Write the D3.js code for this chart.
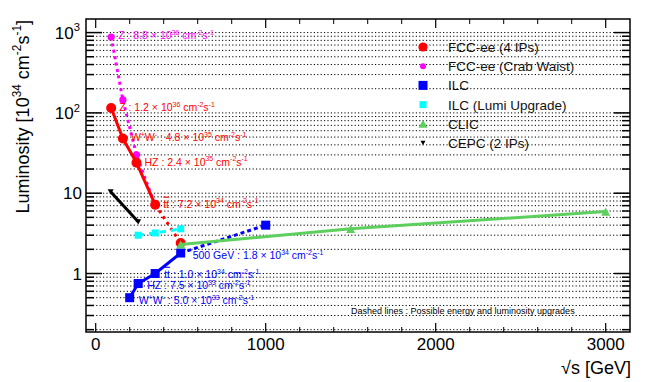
<!DOCTYPE html>
<html>
<head>
<meta charset="utf-8">
<script src="https://cdn.jsdelivr.net/npm/d3@7"></script>
<style>
body { margin: 0; background: #fff; }
text { font-family: "Liberation Sans", Arial, sans-serif; }
</style>
</head>
<body>
<svg id="chart" width="664" height="382"></svg>
<script>
// values
const fccEnergy = [91, 160, 240, 350];
const fccLumi = [115, 48, 24, 7.2];
const fccUpEnergy = [350, 500];
const fccUpLumi = [7.2, 2.4];
const crabEnergy = [91, 160, 240, 350];
const crabLumi = [880, 145, 30, 7.0];
const ilcEnergy = [200, 250, 350, 500];
const ilcLumi = [0.5, 0.75, 1.0, 1.8];
const ilcUpEnergy = [500, 1000];
const ilcUpLumi = [1.8, 4.0];
const ilcLumiUpEnergy = [250, 350, 500];
const ilcLumiUpLumi = [3.0, 3.2, 3.6];
const clicEnergy = [500, 1500, 3000];
const clicLumi = [2.3, 3.6, 5.9];
const cepcEnergy = [88, 250];
const cepcLumi = [10.4, 4.4];

// annotations
const fccNoteNames = ["Z", "WW", "HZ", "tt"];
const fccNoteMant = ["1.2", "4.8", "2.4", "7.2"];
const fccNoteExp = ["36", "35", "35", "34"];
const crabNoteNames = ["Z"];
const crabNoteMant = ["8.8"];
const crabNoteExp = ["36"];
const ilcNoteNames = ["WW", "HZ", "tt", "500 GeV"];
const ilcNoteMant = ["5.0", "7.5", "1.0", "1.8"];
const ilcNoteExp = ["33", "33", "34", "34"];

const legendNames = ["FCC-ee (4 IPs)", "FCC-ee (Crab Waist)", "ILC", "ILC (Lumi Upgrade)", "CLIC", "CEPC (2 IPs)"];

const xTicksMajor = [0, 1000, 2000, 3000];
const yTicksMajor = [1, 10, 100, 1000];

const RED = "#ff0000", MAG = "#ff00ff", BLUE = "#0000ff", CYAN = "#00ffff", GREEN = "#5ccf5c";

const svg = d3.select("#chart");
const L = 86, R = 630, T = 19, B = 332;

const x = d3.scaleLinear().domain([-57, 3143]).range([L, R]);
const y = d3.scaleLog().domain([0.187, 1476]).range([B, T]);

// minor log ticks
const yMinor = [];
[0.1, 1, 10, 100, 1000].forEach(d => {
    for (let k = 2; k <= 9; k++) {
        const v = d * k;
        if (v > y.domain()[0] && v < y.domain()[1]) yMinor.push(v);
    }
});
const yAll = yMinor.concat(yTicksMajor);

// grid
svg.append("g")
    .selectAll("line")
    .data(yAll)
    .join("line")
    .attr("x1", L)
    .attr("x2", R)
    .attr("y1", d => y(d))
    .attr("y2", d => y(d))
    .attr("stroke", "#000")
    .attr("stroke-width", 1)
    .attr("stroke-dasharray", "1.2,2.2");

// rich text helper (superscripts, overline)
function richText(sel, px, py, parts, size, color, anchor, rise) {
    rise = rise || 0.42;
    const t = sel.append("text")
        .attr("x", px)
        .attr("y", py)
        .attr("font-size", size)
        .attr("fill", color)
        .attr("text-anchor", anchor || "start");
    let up = false;
    parts.forEach(p => {
        const s = t.append("tspan").text(p.t);
        if (p.sup) {
            s.attr("font-size", size * 0.66);
            if (!up) { s.attr("dy", -size * rise); up = true; }
        } else if (up) {
            s.attr("dy", size * rise);
            up = false;
        }
        if (p.over) s.attr("text-decoration", "overline");
    });
    return t;
}

function nameParts(n) {
    if (n === "WW") return [{t: "W"}, {t: "+", sup: true}, {t: "W"}, {t: "-", sup: true}, {t: " : "}];
    if (n === "tt") return [{t: "tt", over: true}, {t: " : "}];
    return [{t: n + " : "}];
}
function noteParts(n, m, e) {
    return nameParts(n).concat([
        {t: m + " \u00d7 10"}, {t: e, sup: true},
        {t: " cm"}, {t: "-2", sup: true}, {t: "s"}, {t: "-1", sup: true}
    ]);
}

// lines
const line = d3.line().x(d => x(d[0])).y(d => y(d[1]));
function drawLine(ex, lu, color, dash) {
    svg.append("path")
        .attr("d", line(d3.zip(ex, lu)))
        .attr("fill", "none")
        .attr("stroke", color)
        .attr("stroke-width", 3)
        .attr("stroke-dasharray", dash || null);
}
function drawCircles(ex, lu, color, r) {
    svg.append("g").selectAll("circle")
        .data(d3.zip(ex, lu))
        .join("circle")
        .attr("cx", d => x(d[0]))
        .attr("cy", d => y(d[1]))
        .attr("r", r)
        .attr("fill", color);
}
function drawSquares(ex, lu, color, s) {
    svg.append("g").selectAll("rect")
        .data(d3.zip(ex, lu))
        .join("rect")
        .attr("x", d => x(d[0]) - s / 2)
        .attr("y", d => y(d[1]) - s / 2)
        .attr("width", s)
        .attr("height", s)
        .attr("fill", color);
}
function triPath(cx, cy, s, down) {
    const h = s * 0.9;
    if (down) return `M${cx - s / 2},${cy - h / 2}L${cx + s / 2},${cy - h / 2}L${cx},${cy + h / 2}Z`;
    return `M${cx - s / 2},${cy + h / 2}L${cx + s / 2},${cy + h / 2}L${cx},${cy - h / 2}Z`;
}
function drawTriangles(ex, lu, color, s, down) {
    svg.append("g").selectAll("path")
        .data(d3.zip(ex, lu))
        .join("path")
        .attr("d", d => triPath(x(d[0]), y(d[1]), s, down))
        .attr("fill", color);
}

// FCC-ee crab waist
drawLine(crabEnergy, crabLumi, MAG, "3,3.5");
drawCircles(crabEnergy, crabLumi, MAG, 3.6);
// FCC-ee 4 IPs
drawLine(fccUpEnergy, fccUpLumi, RED, "3,4");
drawLine(fccEnergy, fccLumi, RED);
drawCircles(fccEnergy.concat([fccUpEnergy[1]]), fccLumi.concat([fccUpLumi[1]]), RED, 5);
// ILC
drawLine(ilcUpEnergy, ilcUpLumi, BLUE, "4,3");
drawLine(ilcEnergy, ilcLumi, BLUE);
drawSquares(ilcEnergy.concat([ilcUpEnergy[1]]), ilcLumi.concat([ilcUpLumi[1]]), BLUE, 9);
// ILC lumi upgrade
drawLine(ilcLumiUpEnergy, ilcLumiUpLumi, CYAN, "6,5");
drawSquares(ilcLumiUpEnergy, ilcLumiUpLumi, CYAN, 7);
// CLIC
drawLine(clicEnergy, clicLumi, GREEN);
drawTriangles(clicEnergy, clicLumi, GREEN, 9, false);
// CEPC
drawLine(cepcEnergy, cepcLumi, "#000");
drawTriangles(cepcEnergy, cepcLumi, "#000", 6, true);

// point annotations
const notes = svg.append("g");
crabNoteNames.forEach((n, i) => {
    richText(notes, x(crabEnergy[i]) + 7, y(crabLumi[i]) + 2, noteParts(n, crabNoteMant[i], crabNoteExp[i]), 10.5, MAG);
});
fccNoteNames.forEach((n, i) => {
    richText(notes, x(fccEnergy[i]) + 8, y(fccLumi[i]) + 3, noteParts(n, fccNoteMant[i], fccNoteExp[i]), 10.5, RED);
});
ilcNoteNames.forEach((n, i) => {
    const dy = i === 0 ? 6.4 : (i === 2 ? 4.2 : 5.5);
    richText(notes, x(ilcEnergy[i]) + (i === 3 ? 12 : 9), y(ilcLumi[i]) + dy,
        noteParts(n, ilcNoteMant[i], ilcNoteExp[i]), 10.5, BLUE, "start", 0.36);
});

// legend
const leg = svg.append("g");
const legY = d3.scalePoint().domain(legendNames).range([47, 143]);
legendNames.forEach((n, i) => {
    const cy = legY(n), cx = 423;
    if (i === 0) leg.append("circle").attr("cx", cx).attr("cy", cy).attr("r", 4.6).attr("fill", RED);
    if (i === 1) leg.append("circle").attr("cx", cx).attr("cy", cy).attr("r", 3).attr("fill", MAG);
    if (i === 2) leg.append("rect").attr("x", cx - 4.5).attr("y", cy - 4.5).attr("width", 9).attr("height", 9).attr("fill", BLUE);
    if (i === 3) leg.append("rect").attr("x", cx - 3.5).attr("y", cy - 3.5).attr("width", 7).attr("height", 7).attr("fill", CYAN);
    if (i === 4) leg.append("path").attr("d", triPath(cx, cy, 9, false)).attr("fill", GREEN);
    if (i === 5) leg.append("path").attr("d", triPath(cx, cy, 5, true)).attr("fill", "#000");
    leg.append("text")
        .attr("x", 448)
        .attr("y", cy + 5)
        .attr("font-size", 13.5)
        .attr("fill", "#111")
        .text(n);
});

svg.append("text")
    .attr("x", 351)
    .attr("y", 314)
    .attr("font-size", 9)
    .attr("fill", "#000")
    .text("Dashed lines : Possible energy and luminosity upgrades");

// frame and ticks
const axes = svg.append("g").attr("stroke", "#000").attr("fill", "none");
axes.append("rect")
    .attr("x", L).attr("y", T)
    .attr("width", R - L).attr("height", B - T)
    .attr("stroke-width", 1.5);

const xMinor = d3.range(0, 3141, 200).filter(d => xTicksMajor.indexOf(d) < 0);
xTicksMajor.forEach(d => {
    axes.append("line").attr("x1", x(d)).attr("x2", x(d)).attr("y1", B).attr("y2", B - 9).attr("stroke-width", 1.2);
    axes.append("line").attr("x1", x(d)).attr("x2", x(d)).attr("y1", T).attr("y2", T + 9).attr("stroke-width", 1.2);
});
xMinor.forEach(d => {
    axes.append("line").attr("x1", x(d)).attr("x2", x(d)).attr("y1", B).attr("y2", B - 5).attr("stroke-width", 1);
    axes.append("line").attr("x1", x(d)).attr("x2", x(d)).attr("y1", T).attr("y2", T + 5).attr("stroke-width", 1);
});
yTicksMajor.forEach(d => {
    axes.append("line").attr("x1", L).attr("x2", L + 16).attr("y1", y(d)).attr("y2", y(d)).attr("stroke-width", 1.5);
    axes.append("line").attr("x1", R).attr("x2", R - 16).attr("y1", y(d)).attr("y2", y(d)).attr("stroke-width", 1.5);
});
yMinor.forEach(d => {
    axes.append("line").attr("x1", L).attr("x2", L + 8).attr("y1", y(d)).attr("y2", y(d)).attr("stroke-width", 1.5);
    axes.append("line").attr("x1", R).attr("x2", R - 8).attr("y1", y(d)).attr("y2", y(d)).attr("stroke-width", 1.5);
});

// tick labels
svg.append("g").selectAll("text")
    .data(xTicksMajor)
    .join("text")
    .attr("x", d => x(d))
    .attr("y", 350)
    .attr("font-size", 17)
    .attr("text-anchor", "middle")
    .text(d => d);

const yl = svg.append("g");
yTicksMajor.forEach(d => {
    if (d >= 100) {
        richText(yl, 80, y(d) + 6, [{t: "10"}, {t: String(Math.round(Math.log10(d))), sup: true}], 17, "#000", "end");
    } else {
        yl.append("text").attr("x", 82).attr("y", y(d) + 6).attr("font-size", 17).attr("text-anchor", "end").text(d);
    }
});

// axis titles
svg.append("text")
    .attr("x", 631)
    .attr("y", 374)
    .attr("font-size", 18)
    .attr("text-anchor", "end")
    .text("\u221as [GeV]");

const yt = svg.append("g").attr("transform", "translate(29,20) rotate(-90)");
richText(yt, 0, 0, [{t: "Luminosity [10"}, {t: "34", sup: true}, {t: " cm"}, {t: "-2", sup: true}, {t: "s"}, {t: "-1", sup: true}, {t: "]"}], 18, "#000", "end");
</script>
</body>
</html>
